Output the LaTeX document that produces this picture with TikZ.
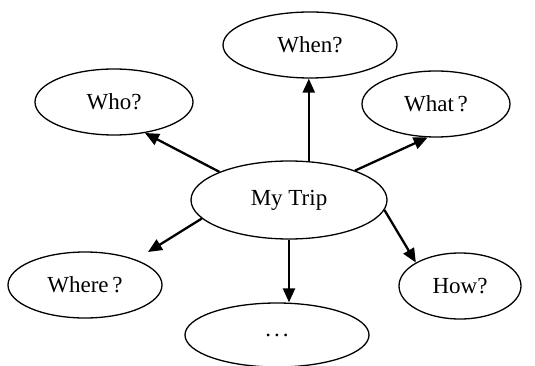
\documentclass[tikz,border=0pt]{standalone}
\usepackage{fontspec}
\setmainfont{Liberation Serif}
\usetikzlibrary{shapes.geometric,arrows.meta}
\begin{document}
\begin{tikzpicture}[x=1pt,y=-1pt,
  bub/.style={draw, ellipse, line width=1.3pt, inner sep=0pt, font=\fontsize{23}{27}\selectfont},
  arr/.style={line width=2.3pt, -{Triangle[length=14pt,width=12pt]}}]
\useasboundingbox (0,0) rectangle (535,366);
\node[bub, minimum width=196pt, minimum height=78pt] (mt) at (289,200) {My Trip};
\node[bub, minimum width=174pt, minimum height=66pt] (when) at (310,45) {When?};
\node[bub, minimum width=158pt, minimum height=66pt] (who) at (114,102) {Who?};
\node[bub, minimum width=148pt, minimum height=66pt] (what) at (436,104) {What\,?};
\node[bub, minimum width=154pt, minimum height=66pt] (where) at (85,285) {Where\,?};
\node[bub, minimum width=122pt, minimum height=66pt] (how) at (460,286) {How?};
\node[bub, minimum width=184pt, minimum height=64pt] (dots) at (277,335) {\raisebox{-3pt}{.\kern3pt.\kern3pt.}};
\coordinate (wtip) at (148,252);
\draw[arr] (mt.63) -- (mt.63 |- when.south);
\draw[arr] (mt.158) -- (who.-45);
\draw[arr] (mt.24) -- (what.-104);
\draw[arr] (mt.192) -- (wtip);
\draw[arr] (mt.-6) -- (how.152);
\draw[arr] (mt.south) -- (mt.south |- dots.north);
\end{tikzpicture}
\end{document}
